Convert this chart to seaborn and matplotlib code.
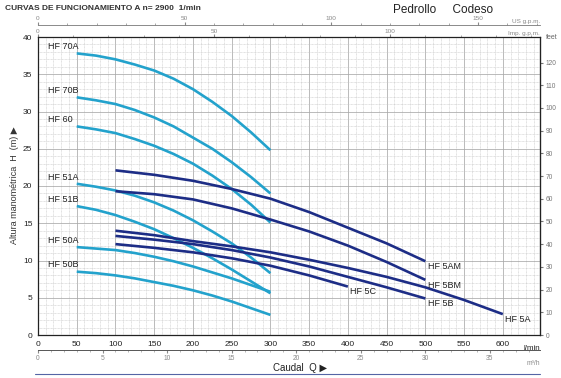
import numpy as np
import pandas as pd
import matplotlib
matplotlib.use("Agg")
import matplotlib.pyplot as plt
import seaborn as sns
from matplotlib.ticker import MultipleLocator, FixedLocator

# ---------------- data ----------------
q_hf = [50, 75, 100, 125, 150, 175, 200, 225, 250, 275, 300]   # l/min
hf_70a = [37.8, 37.5, 37.0, 36.3, 35.5, 34.4, 33.0, 31.3, 29.4, 27.2, 24.8]
hf_70b = [31.9, 31.5, 31.0, 30.2, 29.2, 28.0, 26.5, 25.0, 23.2, 21.2, 19.0]
hf_60 = [28.0, 27.6, 27.1, 26.3, 25.4, 24.3, 23.0, 21.4, 19.6, 17.5, 15.1]
hf_51a = [20.3, 19.9, 19.4, 18.7, 17.8, 16.7, 15.4, 13.9, 12.3, 10.4, 8.3]
hf_51b = [17.3, 16.8, 16.1, 15.2, 14.2, 13.0, 11.7, 10.3, 8.8, 7.2, 5.6]
hf_50a = [11.8, 11.6, 11.4, 11.0, 10.5, 9.9, 9.2, 8.4, 7.6, 6.7, 5.8]
hf_50b = [8.5, 8.3, 8.0, 7.6, 7.1, 6.6, 6.0, 5.3, 4.5, 3.6, 2.7]

q_5 = [100, 150, 200, 250, 300, 350, 400, 450, 500]
q_5a = [100, 150, 200, 250, 300, 350, 400, 450, 500, 550, 600]
q_5c = [100, 150, 200, 250, 300, 350, 400]
hf_5am = [22.1, 21.5, 20.7, 19.6, 18.3, 16.5, 14.4, 12.3, 9.9]
hf_5bm = [19.3, 18.9, 18.2, 17.0, 15.5, 13.9, 12.0, 9.8, 7.4]
hf_5a = [14.0, 13.4, 12.6, 11.9, 11.1, 10.1, 9.0, 7.8, 6.4, 4.7, 2.8]
hf_5b = [13.3, 12.8, 12.2, 11.4, 10.4, 9.2, 7.8, 6.4, 4.9]
hf_5c = [12.2, 11.7, 11.1, 10.3, 9.3, 8.0, 6.5]

cyan_names = ["HF 70A", "HF 70B", "HF 60", "HF 51A", "HF 51B", "HF 50A", "HF 50B"]
cyan_vals = [hf_70a, hf_70b, hf_60, hf_51a, hf_51b, hf_50a, hf_50b]
navy_names = ["HF 5AM", "HF 5BM", "HF 5A", "HF 5B", "HF 5C"]
navy_q = [q_5, q_5, q_5a, q_5, q_5c]
navy_vals = [hf_5am, hf_5bm, hf_5a, hf_5b, hf_5c]

x_ticks = [0, 50, 100, 150, 200, 250, 300, 350, 400, 450, 500, 550, 600]
y_ticks = [0, 5, 10, 15, 20, 25, 30, 35, 40]
ft_ticks = [0, 10, 20, 30, 40, 50, 60, 70, 80, 90, 100, 110, 120]
us_ticks = [0, 50, 100, 150]
imp_ticks = [0, 50, 100]
m3h_ticks = [0, 5, 10, 15, 20, 25, 30, 35]

# ---------------- build table ----------------
rows = []
for name, vals in zip(cyan_names, cyan_vals):
    for q, h in zip(q_hf, vals):
        rows.append((name, q, h))
for name, qs, vals in zip(navy_names, navy_q, navy_vals):
    for q, h in zip(qs, vals):
        rows.append((name, q, h))
df = pd.DataFrame(rows, columns=["model", "Q", "H"])

CYAN = "#23a2cc"
NAVY = "#1d2d86"
palette = {n: CYAN for n in cyan_names}
palette.update({n: NAVY for n in navy_names})

sns.set_style("white")
plt.rcParams["font.family"] = ["Liberation Sans", "DejaVu Sans"]

fig = plt.figure(figsize=(5.61, 3.78), dpi=100)
ax = fig.add_axes([38 / 561, 43 / 378, 502 / 561, 298 / 378])

sns.lineplot(data=df, x="Q", y="H", hue="model", palette=palette,
             estimator=None, sort=False, legend=False, linewidth=1.9, ax=ax)
for ln in ax.get_lines():
    ln.set_solid_capstyle("butt")

ax.set_xlim(0, 648)
ax.set_ylim(0, 40)

# grid
ax.xaxis.set_major_locator(FixedLocator(x_ticks))
ax.yaxis.set_major_locator(FixedLocator(y_ticks))
ax.xaxis.set_minor_locator(MultipleLocator(10))
ax.yaxis.set_minor_locator(MultipleLocator(1))
ax.grid(which="major", color="#a8a8a8", lw=0.55, ls="-")
ax.grid(which="minor", color="#c4c4c4", lw=0.4, ls=(0, (1.5, 1)))
ax.set_axisbelow(True)
for s in ax.spines.values():
    s.set_color("#222222")
    s.set_linewidth(0.9)

ax.tick_params(axis="both", which="major", labelsize=6, length=2, pad=2,
               colors="#222222")
ax.tick_params(axis="both", which="minor", length=0)
ax.set_xticklabels([str(t) for t in x_ticks])
ax.set_yticklabels([str(t) for t in y_ticks])
ax.set_xlabel("")
ax.set_ylabel("")

# curve labels
for name, vals in zip(cyan_names, cyan_vals):
    ax.text(q_hf[0] - 37, vals[0] + 0.9, name, fontsize=6.5,
            color="#222222", ha="left", va="center")
for name, qs, vals in zip(navy_names, navy_q, navy_vals):
    ax.text(qs[-1] + 3, vals[-1] - 0.7, name, fontsize=6.5,
            color="#222222", ha="left", va="center")

ax.text(1.0, -0.035, "l/min", transform=ax.transAxes, fontsize=5.8,
        ha="right", va="top", color="#222222")

# right: feet
sec_ft = ax.secondary_yaxis("right", functions=(lambda h: h * 3.28084,
                                                 lambda f: f / 3.28084))
sec_ft.yaxis.set_major_locator(FixedLocator(ft_ticks))
sec_ft.tick_params(labelsize=4.8, length=2.5, pad=1.5, colors="#777777")
sec_ft.spines["right"].set_color("#222222")
ax.text(1.012, 0.985, "feet", transform=ax.transAxes, fontsize=5,
        color="#666666", ha="left", va="bottom")

# top: Imp g.p.m. on frame, US g.p.m. above
sec_imp = ax.secondary_xaxis(1.0, functions=(lambda q: q / 4.54609,
                                              lambda g: g * 4.54609))
sec_imp.xaxis.set_major_locator(FixedLocator(imp_ticks))
sec_imp.xaxis.set_minor_locator(MultipleLocator(10))
sec_imp.tick_params(which="major", labelsize=4.6, length=2, pad=0.5,
                    colors="#888888")
sec_imp.tick_params(which="minor", length=1.5, colors="#999999")
sec_imp.spines["top"].set_visible(False)

sec_us = ax.secondary_xaxis(1.04, functions=(lambda q: q / 3.78541,
                                              lambda g: g * 3.78541))
sec_us.xaxis.set_major_locator(FixedLocator(us_ticks))
sec_us.xaxis.set_minor_locator(MultipleLocator(10))
sec_us.tick_params(which="major", labelsize=4.6, length=2.5, pad=0.3,
                   colors="#888888")
sec_us.tick_params(which="minor", length=1.5, colors="#999999")
sec_us.spines["top"].set_color("#777777")
sec_us.spines["top"].set_linewidth(0.6)
ax.text(1.0, 1.045, "US g.p.m.", transform=ax.transAxes, fontsize=4.6,
        color="#888888", ha="right", va="bottom")
ax.text(1.0, 1.005, "Imp. g.p.m.", transform=ax.transAxes, fontsize=4.6,
        color="#888888", ha="right", va="bottom")

# bottom: m3/h
sec_m3 = ax.secondary_xaxis(-0.05, functions=(lambda q: q * 0.06,
                                               lambda m: m / 0.06))
sec_m3.xaxis.set_major_locator(FixedLocator(m3h_ticks))
sec_m3.xaxis.set_minor_locator(MultipleLocator(1))
sec_m3.tick_params(which="major", labelsize=4.8, length=2.5, pad=1,
                   colors="#888888")
sec_m3.tick_params(which="minor", length=1.2, colors="#aaaaaa")
sec_m3.spines["bottom"].set_color("#555555")
sec_m3.spines["bottom"].set_linewidth(0.7)
ax.text(1.0, -0.085, "m³/h", transform=ax.transAxes, fontsize=4.8,
        color="#888888", ha="right", va="top")

# texts
fig.text(5 / 561, 1 - 8 / 378, "CURVAS DE FUNCIONAMIENTO A n= 2900  1/min",
         fontsize=6, fontweight="bold", color="#333333", ha="left", va="center")
fig.text(393 / 561, 1 - 10 / 378, "Pedrollo     Codeso", fontsize=8.5,
         color="#222222", ha="left", va="center")
fig.text(15 / 561, 1 - 185 / 378, "Altura manométrica  H  (m) ▶",
         rotation=90, fontsize=6.5, color="#333333", ha="center", va="center")
fig.text(300 / 561, 1 - 368 / 378, "Caudal  Q ▶", fontsize=7,
         color="#222222", ha="center", va="center")
fig.add_artist(plt.Line2D([35 / 561, 540 / 561], [1 - 374 / 378, 1 - 374 / 378],
                          transform=fig.transFigure, color="#2a3f8f", lw=0.8,
                          alpha=0.8))

fig.savefig("out.png", dpi=100)
